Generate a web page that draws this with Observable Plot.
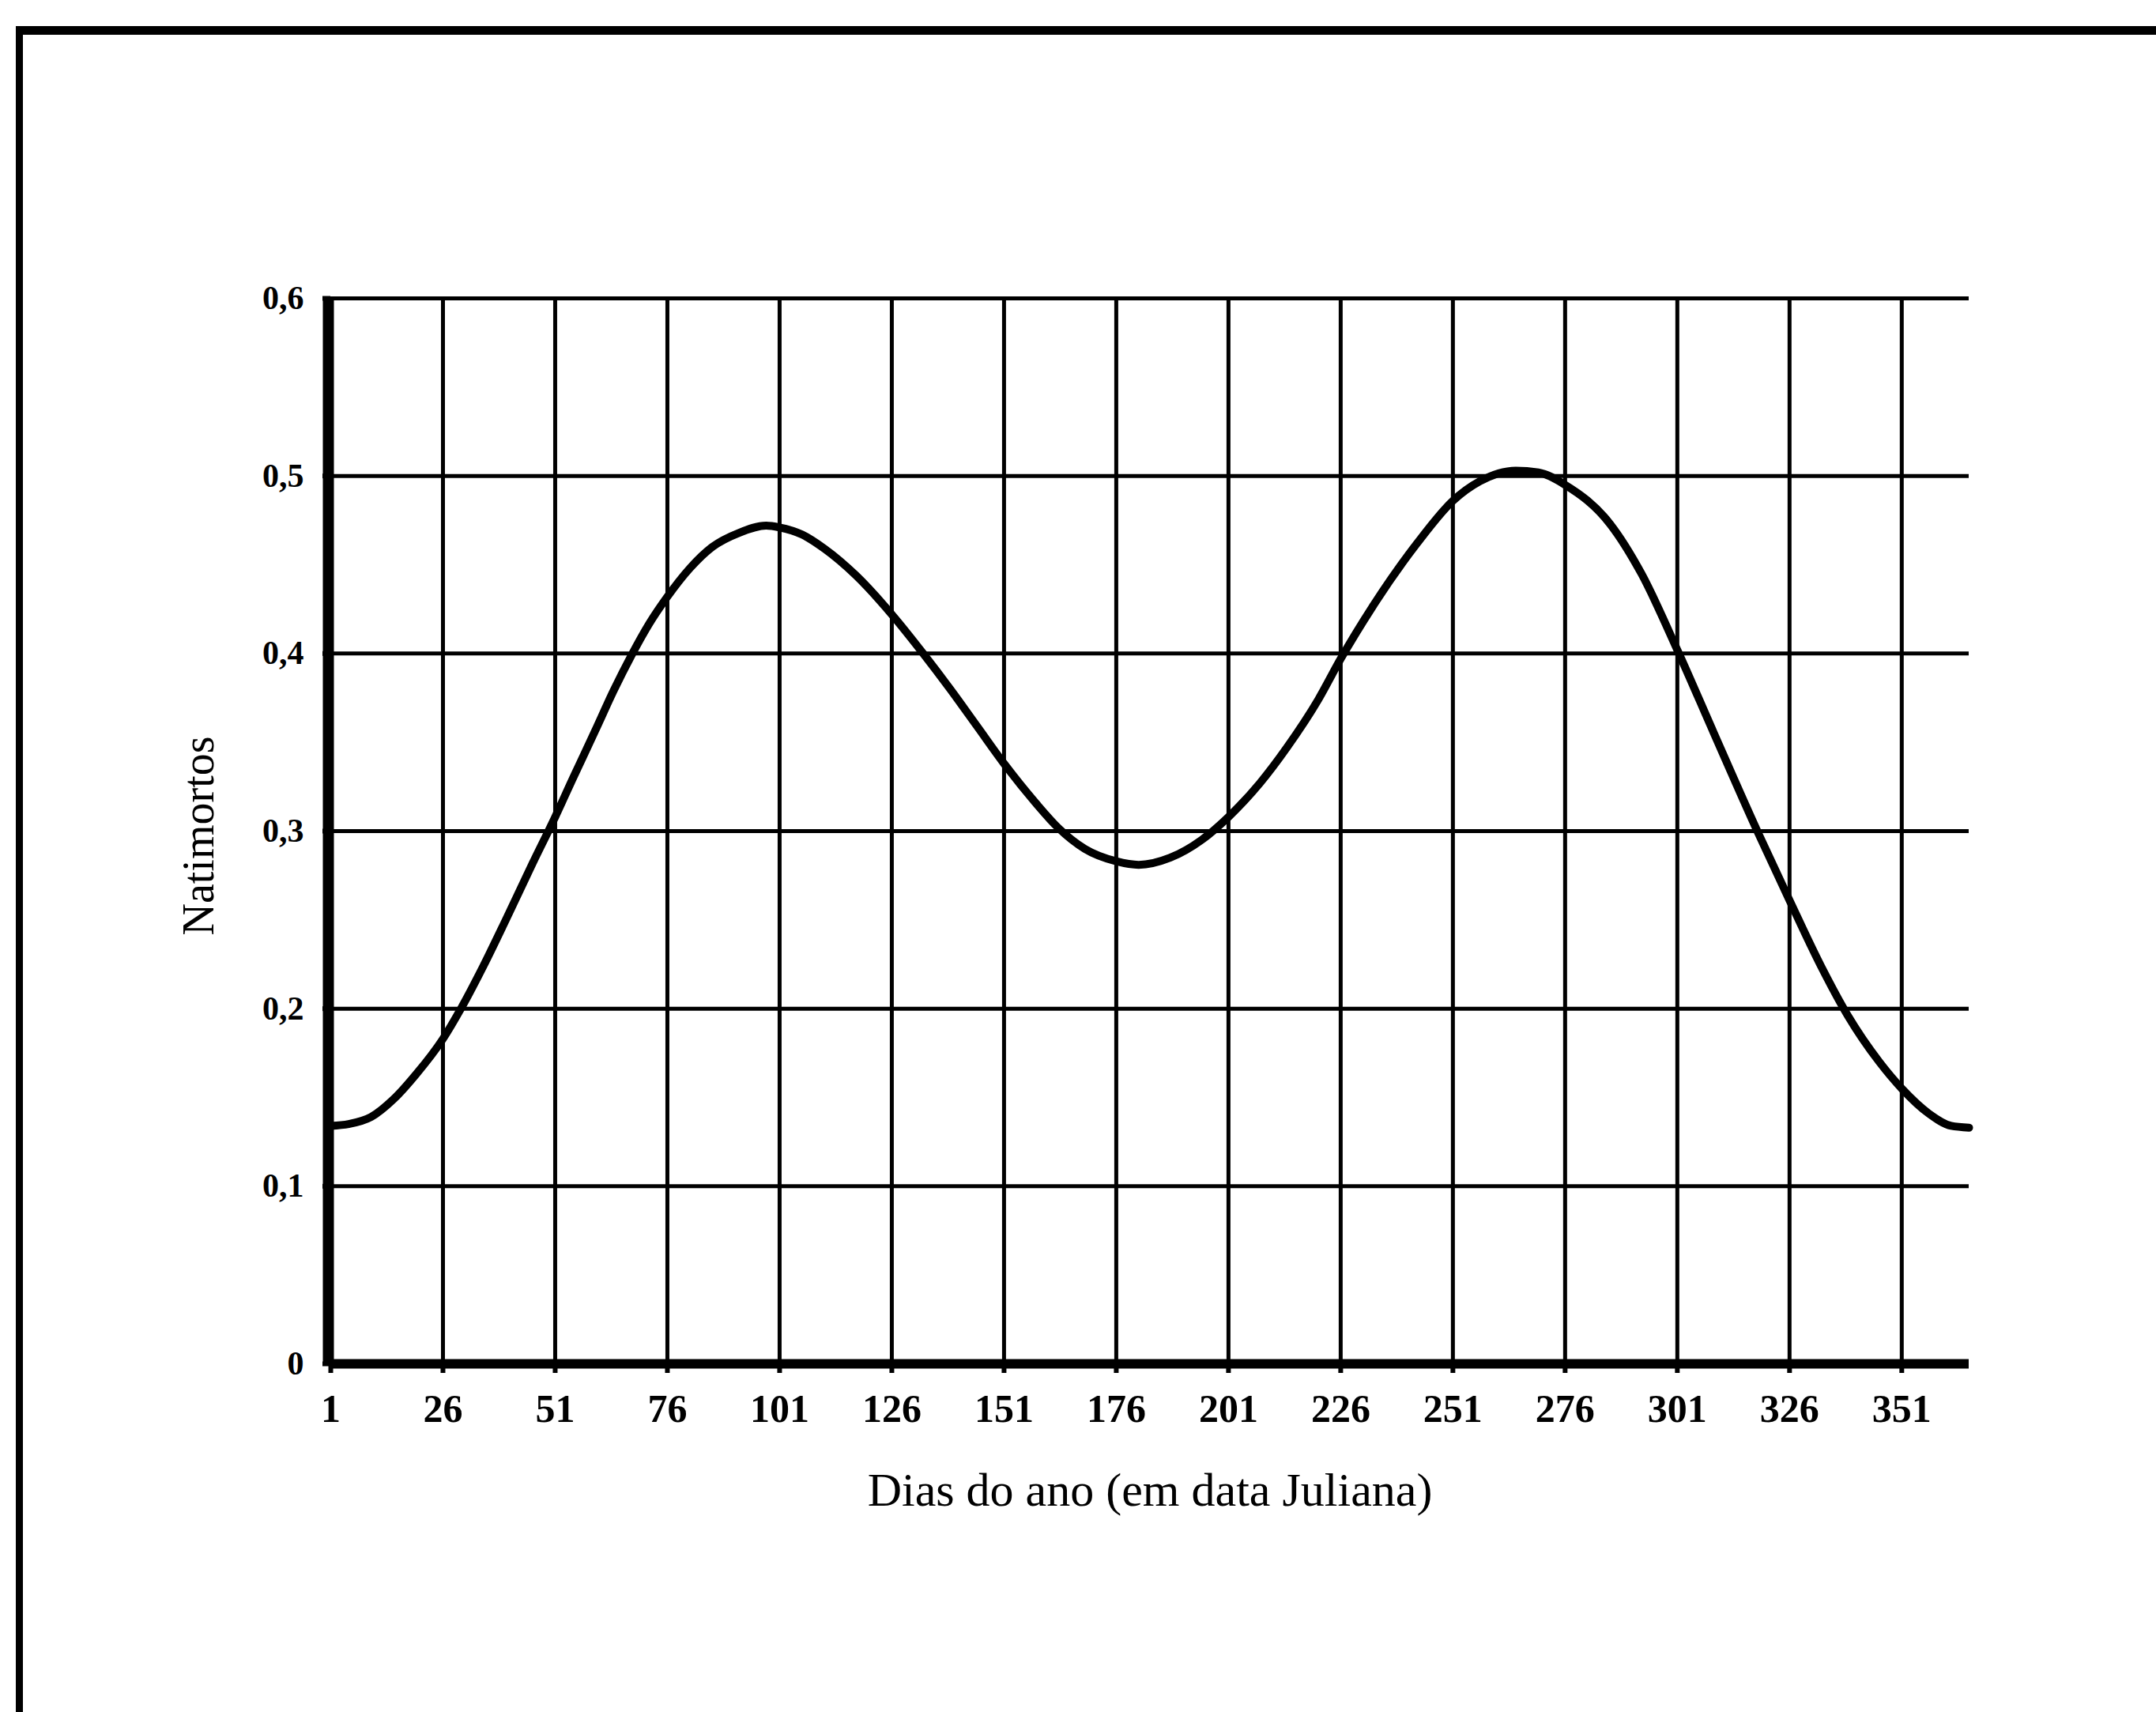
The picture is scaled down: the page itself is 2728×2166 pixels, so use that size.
<!DOCTYPE html>
<html>
<head>
<meta charset="utf-8">
<script src="https://cdn.jsdelivr.net/npm/d3@7"></script>
<script src="https://cdn.jsdelivr.net/npm/@observablehq/plot@0.6"></script>
<style>
  html, body { margin: 0; padding: 0; background: white; }
  #wrap { position: relative; width: 2728px; height: 2166px; overflow: hidden; background: white; }
  #frame { position: absolute; left: 20px; top: 33px; width: 2740px; height: 2200px;
           border-top: 11px solid black; border-left: 9px solid black; pointer-events: none; }
  svg { display: block; }
</style>
</head>
<body>
<div id="wrap"><div id="frame"></div></div>
<script>
// Day of year (Julian date) and stillbirth (natimortos) values
const days   = [1, 5, 10, 15, 20, 26, 30, 35, 40, 46, 51, 55, 60, 64, 68, 72, 76, 81, 86, 92, 98, 101, 106, 111, 118, 126, 133, 139, 145, 151, 158, 163, 169, 176, 181, 188, 195, 201, 208, 214, 221, 226, 233, 243, 251, 257, 265, 270, 276, 286, 293, 301, 309, 319, 326, 333, 339, 346, 351, 357, 362, 366];
const values = [0.134, 0.135, 0.139, 0.149, 0.163, 0.183, 0.200, 0.224, 0.250, 0.282, 0.308, 0.330, 0.357, 0.379, 0.399, 0.417, 0.432, 0.448, 0.460, 0.468, 0.472, 0.471, 0.467, 0.459, 0.444, 0.422, 0.400, 0.380, 0.359, 0.338, 0.316, 0.302, 0.290, 0.283, 0.281, 0.285, 0.295, 0.308, 0.327, 0.347, 0.374, 0.397, 0.426, 0.462, 0.486, 0.497, 0.503, 0.502, 0.495, 0.473, 0.445, 0.402, 0.356, 0.299, 0.261, 0.224, 0.196, 0.170, 0.155, 0.141, 0.134, 0.133];
const xTicks = [1, 26, 51, 76, 101, 126, 151, 176, 201, 226, 251, 276, 301, 326, 351];
const yTicks = [0, 0.1, 0.2, 0.3, 0.4, 0.5, 0.6];
const xTitle = "Dias do ano (em data Juliana)";
const yTitle = "Natimortos";

const data = days.map((d, i) => ({day: d, value: values[i]}));
const fmtY = v => v === 0 ? "0" : v.toFixed(1).replace(".", ",");

const chart = Plot.plot({
  width: 2728,
  height: 2166,
  marginLeft: 418,
  marginRight: 237,
  marginTop: 377,
  marginBottom: 441,
  x: {domain: [1, 366]},
  y: {domain: [0, 0.6]},
  style: {background: "white", color: "black", fontFamily: "'Liberation Serif', 'DejaVu Serif', serif"},
  marks: [
    Plot.gridX(xTicks, {stroke: "black", strokeOpacity: 1, strokeWidth: 5}),
    Plot.gridY(yTicks, {stroke: "black", strokeOpacity: 1, strokeWidth: 5}),
    Plot.ruleY([0], {stroke: "black", strokeWidth: 12}),
    Plot.ruleX([1], {stroke: "black", strokeWidth: 14, dx: -3}),
    Plot.line(data, {x: "day", y: "value", stroke: "black", strokeWidth: 10, curve: "monotone-x"}),
    Plot.axisX(xTicks, {
      tickSize: 12, tickPadding: 26, strokeWidth: 6,
      fontSize: 50, fontWeight: "bold", tickFormat: d => String(d), label: null
    }),
    Plot.axisY(yTicks, {
      tickSize: 10, tickPadding: 24, strokeWidth: 6,
      fontSize: 42, fontWeight: "bold", tickFormat: fmtY, label: null
    }),
    Plot.text([xTitle], {frameAnchor: "bottom", dy: 160, fontSize: 60, lineAnchor: "middle", textAnchor: "middle", fill: "black"}),
    Plot.text([yTitle], {frameAnchor: "left", dx: -166, dy: 6, rotate: -90, fontSize: 56, lineAnchor: "middle", textAnchor: "middle", fill: "black"})
  ]
});
document.getElementById("wrap").insertBefore(chart, document.getElementById("frame"));
</script>
</body>
</html>
